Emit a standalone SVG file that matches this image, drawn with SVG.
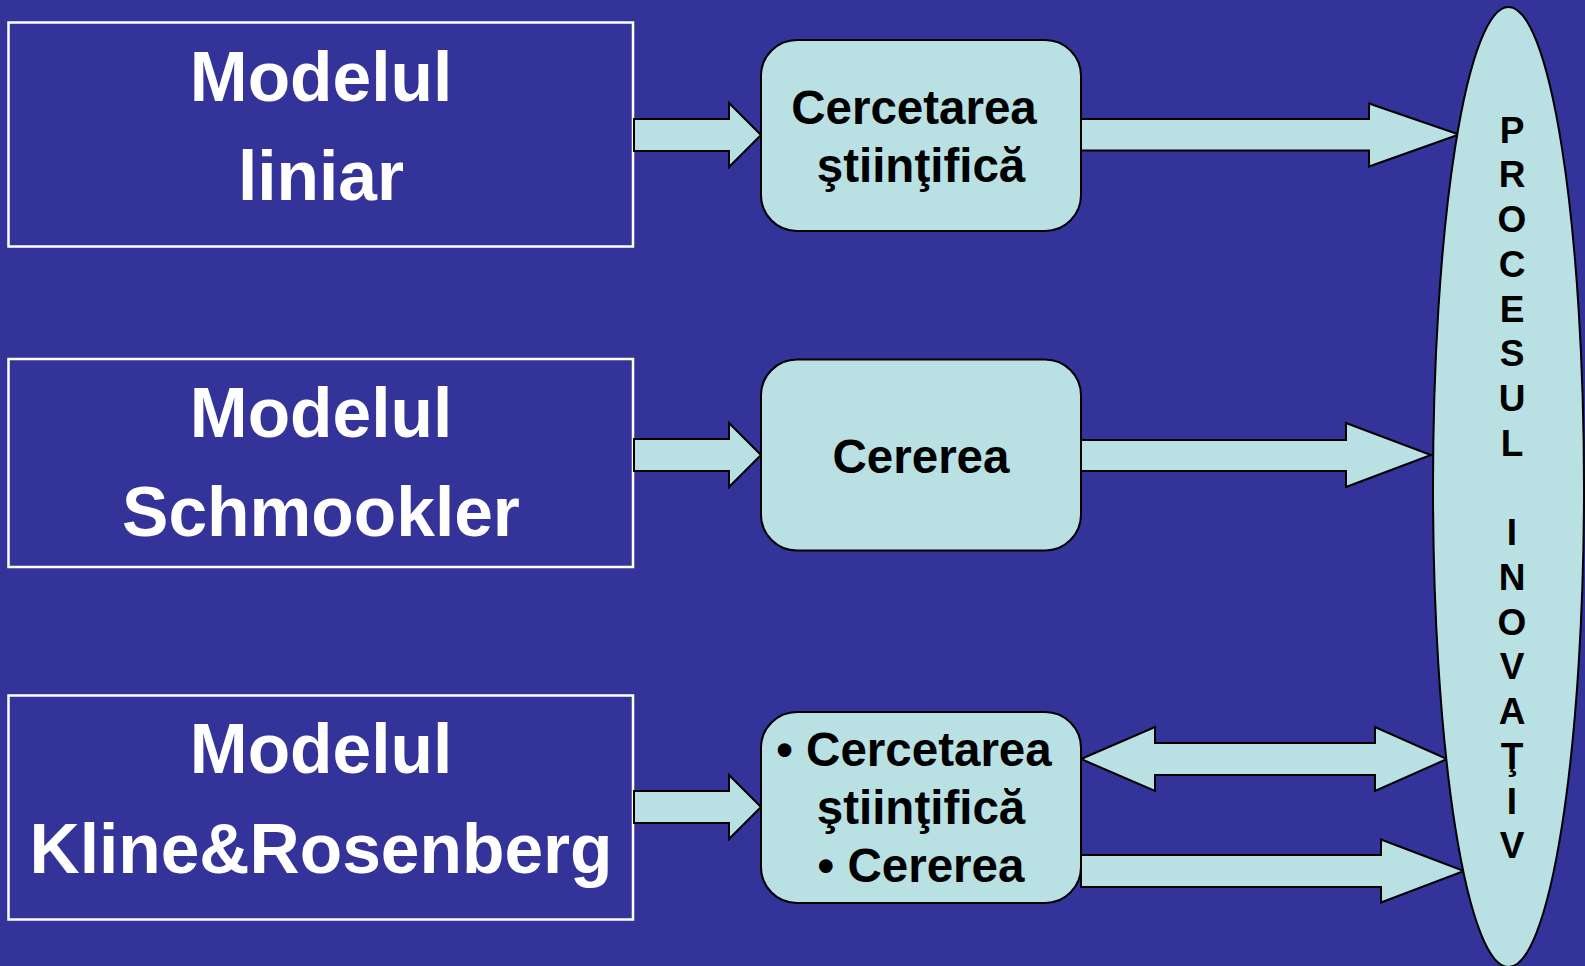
<svg xmlns="http://www.w3.org/2000/svg" width="1585" height="966" viewBox="0 0 1585 966">
<style>
.bg{fill:#333399}
.model{fill:none;stroke:#ffffff;stroke-width:2.5}
.mt{font-family:"Liberation Sans",Arial,sans-serif;font-weight:bold;font-size:69.5px;fill:#ffffff;text-anchor:middle}
.box{fill:#B9E0E3;stroke:#000000;stroke-width:2}
.bt{font-family:"Liberation Sans",Arial,sans-serif;font-weight:bold;font-size:47.5px;fill:#000000;text-anchor:middle}
.arr{fill:#B9E0E3;stroke:#000000;stroke-width:2;stroke-linejoin:miter}
.vt{font-family:"Liberation Sans",Arial,sans-serif;font-weight:bold;font-size:37px;fill:#000000;text-anchor:middle}
</style>
<rect class="bg" x="0" y="0" width="1585" height="966"/>

<g id="model-liniar">
<rect class="model" x="8.5" y="22.5" width="624.5" height="224"/>
<text class="mt" x="321" y="101">Modelul</text>
<text class="mt" x="321" y="200">liniar</text>
</g>
<g id="model-schmookler">
<rect class="model" x="8.5" y="359" width="624.5" height="208"/>
<text class="mt" x="321" y="437">Modelul</text>
<text class="mt" x="321" y="536">Schmookler</text>
</g>
<g id="model-kline">
<rect class="model" x="8.5" y="695.5" width="624.5" height="224"/>
<text class="mt" x="321" y="773">Modelul</text>
<text class="mt" x="321" y="873">Kline&amp;Rosenberg</text>
</g>

<g id="connectors">
<polygon class="arr" points="634,119 729,119 729,103 761,135 729,167 729,151 634,151"/>
<polygon class="arr" points="634,439 729,439 729,423 761,455 729,487 729,471 634,471"/>
<polygon class="arr" points="634,791 729,791 729,775 761,807 729,839 729,823 634,823"/>
<polygon class="arr" points="1081,119 1369,119 1369,103.5 1459,134.5 1369,166.5 1369,150.5 1081,150.5"/>
<polygon class="arr" points="1081,440 1346,440 1346,423 1431,455 1346,487 1346,471 1081,471"/>
<polygon class="arr" points="1081,759 1155,727 1155,743 1375,743 1375,727 1447,759 1375,791 1375,775 1155,775 1155,791"/>
<polygon class="arr" points="1081,855 1381,855 1381,839.5 1464,871 1381,902.5 1381,887 1081,887"/>
</g>

<g id="node-cercetarea">
<rect class="box" x="761" y="40" width="320" height="191" rx="36"/>
<text class="bt" x="914" y="124">Cercetarea</text>
<text class="bt" x="921" y="182">ştiinţifică</text>
</g>
<g id="node-cererea">
<rect class="box" x="761" y="359.5" width="320" height="191" rx="36"/>
<text class="bt" x="921" y="473">Cererea</text>
</g>
<g id="node-both">
<rect class="box" x="761" y="712" width="320" height="191" rx="36"/>
<text class="bt" x="914" y="766">• Cercetarea</text>
<text class="bt" x="921" y="824">ştiinţifică</text>
<text class="bt" x="921" y="882">• Cererea</text>
</g>

<g id="node-procesul">
<ellipse class="box" cx="1508.5" cy="487" rx="75.5" ry="480"/>
<text class="vt" x="1512" y="142.7">P</text>
<text class="vt" x="1512" y="187.4">R</text>
<text class="vt" x="1512" y="232.1">O</text>
<text class="vt" x="1512" y="276.9">C</text>
<text class="vt" x="1512" y="321.6">E</text>
<text class="vt" x="1512" y="366.3">S</text>
<text class="vt" x="1512" y="411">U</text>
<text class="vt" x="1512" y="455.7">L</text>
<text class="vt" x="1512" y="545.2">I</text>
<text class="vt" x="1512" y="589.9">N</text>
<text class="vt" x="1512" y="634.6">O</text>
<text class="vt" x="1512" y="679.3">V</text>
<text class="vt" x="1512" y="724">A</text>
<text class="vt" x="1512" y="768.8">Ţ</text>
<text class="vt" x="1512" y="813.5">I</text>
<text class="vt" x="1512" y="858.2">V</text>
</g>
</svg>
